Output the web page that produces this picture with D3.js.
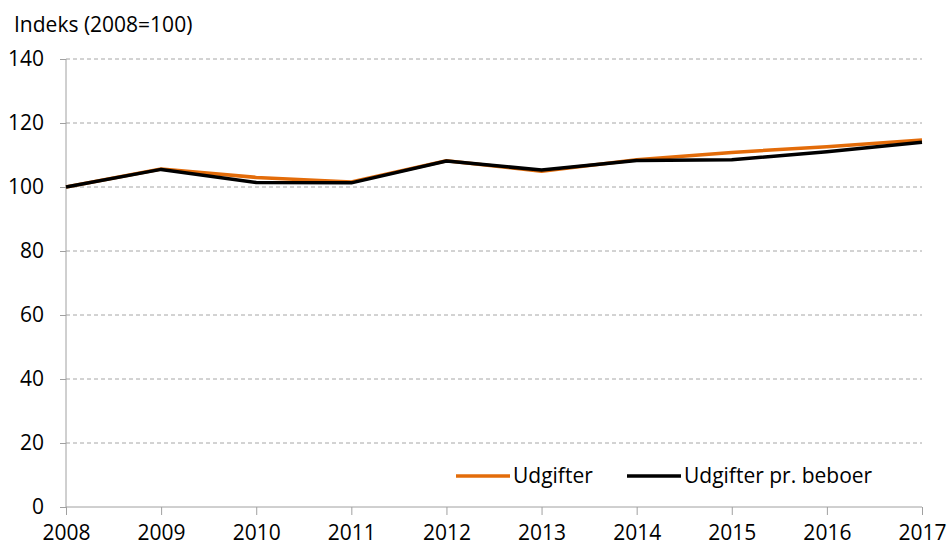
<!DOCTYPE html>
<html><head><meta charset="utf-8">
<script src="https://cdn.jsdelivr.net/npm/d3@7"></script>
<style>body{margin:0;background:#fff}text{font-family:"Open Sans",Lato,sans-serif;fill:#000}</style>
</head><body><svg id="c" width="947" height="548"></svg>
<script>
const years = [2008,2009,2010,2011,2012,2013,2014,2015,2016,2017];
const udgifter = [100,105.6,103.0,101.6,108.2,104.9,108.5,110.8,112.6,114.7];
const prBeboer = [100,105.5,101.4,101.3,108.1,105.3,108.3,108.5,111.0,114.0];
const yTicks = [0,20,40,60,80,100,120,140];
const seriesNames = ["Udgifter","Udgifter pr. beboer"];
const colors = ["#e36c0a","#000000"];
const FS = "21px";

const svg = d3.select("#c");
const x = d3.scaleLinear().domain([2008,2017]).range([66,922]);
const y = d3.scaleLinear().domain([0,140]).range([507,59]);

// gridlines
svg.append("g").selectAll("line").data(yTicks.filter(d=>d>0)).join("line")
  .attr("x1",66).attr("x2",922).attr("y1",d=>y(d)).attr("y2",d=>y(d))
  .attr("stroke","#a6a6a6").attr("stroke-width",1).attr("stroke-dasharray","4,3");

// y axis
const ya = svg.append("g").attr("transform","translate(66,0)")
  .call(d3.axisLeft(y).tickValues(yTicks).tickSize(6).tickPadding(16).tickFormat(d3.format("d")));
ya.select(".domain").attr("stroke","#a0a0a0").attr("d","M0,"+y(140)+"V"+y(0));
ya.selectAll(".tick line").attr("stroke","#a0a0a0");
ya.selectAll("text").style("font-size",FS);

// x axis
const xa = svg.append("g").attr("transform","translate(0,"+y(0)+")")
  .call(d3.axisBottom(x).tickValues(years).tickSize(8).tickPadding(10).tickFormat(d3.format("d")));
xa.select(".domain").attr("stroke","#a0a0a0").attr("d","M66,0H922");
xa.selectAll(".tick line").attr("stroke","#a0a0a0");
xa.selectAll("text").style("font-size",FS);

// lines
const line = d3.line().x((d,i)=>x(years[i])).y(d=>y(d));
[udgifter,prBeboer].forEach((s,i)=>{
  svg.append("path").datum(s).attr("d",line).attr("fill","none")
    .attr("stroke",colors[i]).attr("stroke-width",3.5).attr("stroke-linejoin","round");
});

// title
svg.append("text").attr("x",14).attr("y",32).style("font-size",FS).text("Indeks (2008=100)");

// legend
const legX = [456,627];
seriesNames.forEach((n,i)=>{
  svg.append("line").attr("x1",legX[i]).attr("x2",legX[i]+54).attr("y1",476).attr("y2",476)
    .attr("stroke",colors[i]).attr("stroke-width",3.5);
  svg.append("text").attr("x",legX[i]+57).attr("y",483).style("font-size",FS).text(n);
});
</script></body></html>
